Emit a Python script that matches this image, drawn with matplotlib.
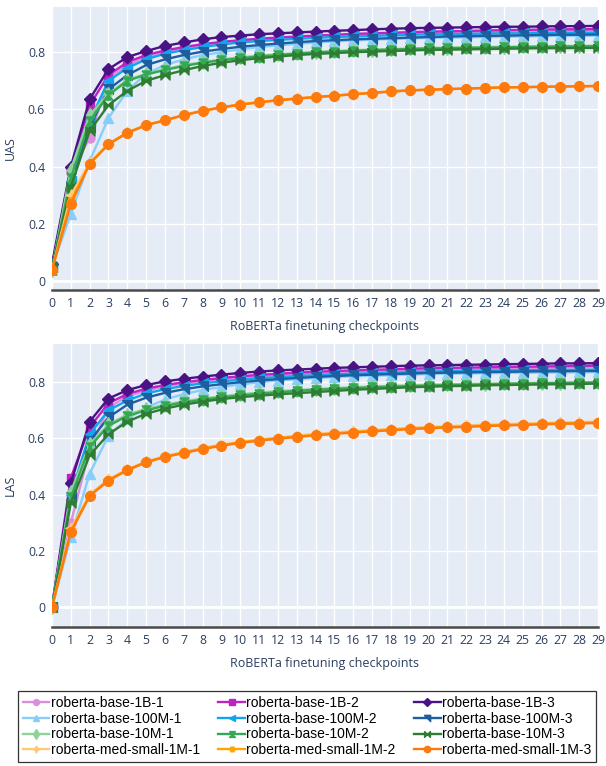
import matplotlib
matplotlib.use('Agg')
import matplotlib.pyplot as plt

# ── datos: checkpoints 0..29 ────────────────────────────────
checkpoints = list(range(30))

names = [
    'roberta-base-1B-1', 'roberta-base-1B-2', 'roberta-base-1B-3',
    'roberta-base-100M-1', 'roberta-base-100M-2', 'roberta-base-100M-3',
    'roberta-base-10M-1', 'roberta-base-10M-2', 'roberta-base-10M-3',
    'roberta-med-small-1M-1', 'roberta-med-small-1M-2', 'roberta-med-small-1M-3',
]

uas_1b_1 = [0.05, 0.38, 0.50, 0.71, 0.755, 0.782, 0.80, 0.812, 0.822, 0.83, 0.837, 0.842, 0.846, 0.85, 0.853,
            0.856, 0.859, 0.861, 0.863, 0.865, 0.867, 0.868, 0.869, 0.871, 0.872, 0.873, 0.874, 0.875, 0.875, 0.876]
uas_1b_2 = [0.05, 0.39, 0.615, 0.72, 0.765, 0.79, 0.806, 0.818, 0.828, 0.836, 0.842, 0.847, 0.851, 0.855, 0.858,
            0.861, 0.864, 0.866, 0.868, 0.87, 0.872, 0.873, 0.874, 0.876, 0.877, 0.878, 0.879, 0.88, 0.88, 0.881]
uas_1b_3 = [0.06, 0.40, 0.636, 0.741, 0.783, 0.804, 0.822, 0.834, 0.845, 0.853, 0.858, 0.863, 0.866, 0.869, 0.872,
            0.875, 0.877, 0.88, 0.882, 0.884, 0.885, 0.886, 0.887, 0.888, 0.889, 0.889, 0.89, 0.891, 0.891, 0.892]
uas_100m_1 = [0.05, 0.235, 0.42, 0.57, 0.665, 0.725, 0.755, 0.775, 0.79, 0.80, 0.81, 0.818, 0.824, 0.829, 0.834,
              0.838, 0.841, 0.844, 0.846, 0.848, 0.85, 0.851, 0.852, 0.853, 0.854, 0.855, 0.856, 0.857, 0.857, 0.858]
uas_100m_2 = [0.05, 0.35, 0.56, 0.70, 0.745, 0.775, 0.795, 0.807, 0.818, 0.827, 0.834, 0.839, 0.843, 0.847, 0.85,
              0.853, 0.855, 0.857, 0.859, 0.861, 0.862, 0.863, 0.864, 0.865, 0.866, 0.866, 0.867, 0.867, 0.868, 0.868]
uas_100m_3 = [0.05, 0.33, 0.54, 0.67, 0.72, 0.755, 0.775, 0.79, 0.802, 0.811, 0.819, 0.825, 0.83, 0.835, 0.839,
              0.842, 0.845, 0.847, 0.849, 0.851, 0.853, 0.855, 0.856, 0.857, 0.858, 0.859, 0.86, 0.861, 0.861, 0.862]
uas_10m_1 = [0.04, 0.39, 0.58, 0.655, 0.703, 0.725, 0.74, 0.755, 0.765, 0.775, 0.782, 0.788, 0.793, 0.797, 0.801,
             0.804, 0.807, 0.809, 0.811, 0.813, 0.815, 0.816, 0.817, 0.818, 0.819, 0.82, 0.821, 0.822, 0.822, 0.823]
uas_10m_2 = [0.04, 0.36, 0.56, 0.65, 0.70, 0.722, 0.738, 0.752, 0.763, 0.772, 0.779, 0.785, 0.79, 0.795, 0.799,
             0.802, 0.805, 0.807, 0.809, 0.811, 0.813, 0.814, 0.815, 0.816, 0.817, 0.818, 0.819, 0.82, 0.82, 0.821]
uas_10m_3 = [0.05, 0.33, 0.525, 0.615, 0.665, 0.70, 0.72, 0.737, 0.752, 0.763, 0.772, 0.779, 0.785, 0.79, 0.794,
             0.797, 0.80, 0.802, 0.804, 0.806, 0.808, 0.809, 0.81, 0.811, 0.812, 0.813, 0.814, 0.814, 0.815, 0.815]
uas_ms_1 = [0.04, 0.30, 0.415, 0.48, 0.52, 0.546, 0.563, 0.581, 0.596, 0.608, 0.618, 0.626, 0.633, 0.639, 0.644,
            0.649, 0.654, 0.659, 0.663, 0.667, 0.669, 0.671, 0.673, 0.675, 0.677, 0.678, 0.679, 0.68, 0.681, 0.682]
uas_ms_2 = [0.04, 0.28, 0.41, 0.479, 0.519, 0.545, 0.562, 0.58, 0.595, 0.607, 0.617, 0.625, 0.632, 0.638, 0.643,
            0.648, 0.653, 0.658, 0.662, 0.666, 0.669, 0.671, 0.673, 0.675, 0.677, 0.678, 0.679, 0.68, 0.681, 0.682]
uas_ms_3 = [0.04, 0.27, 0.41, 0.478, 0.518, 0.545, 0.562, 0.58, 0.595, 0.607, 0.617, 0.625, 0.632, 0.638, 0.643,
            0.648, 0.653, 0.658, 0.663, 0.667, 0.669, 0.671, 0.673, 0.675, 0.677, 0.678, 0.679, 0.68, 0.681, 0.682]

las_1b_1 = [0.0, 0.30, 0.56, 0.71, 0.75, 0.77, 0.785, 0.795, 0.803, 0.81, 0.816, 0.821, 0.825, 0.829, 0.832,
            0.835, 0.837, 0.839, 0.841, 0.843, 0.845, 0.846, 0.847, 0.848, 0.849, 0.85, 0.851, 0.852, 0.853, 0.854]
las_1b_2 = [0.0, 0.46, 0.64, 0.725, 0.758, 0.777, 0.79, 0.80, 0.808, 0.815, 0.821, 0.826, 0.83, 0.834, 0.837,
            0.84, 0.842, 0.844, 0.846, 0.848, 0.85, 0.851, 0.852, 0.853, 0.854, 0.855, 0.856, 0.857, 0.858, 0.859]
las_1b_3 = [0.0, 0.44, 0.66, 0.742, 0.772, 0.79, 0.803, 0.812, 0.82, 0.827, 0.833, 0.838, 0.842, 0.845, 0.848,
            0.851, 0.853, 0.855, 0.857, 0.859, 0.86, 0.861, 0.862, 0.863, 0.864, 0.865, 0.866, 0.867, 0.867, 0.868]
las_100m_1 = [0.0, 0.25, 0.475, 0.61, 0.67, 0.71, 0.738, 0.758, 0.772, 0.783, 0.792, 0.80, 0.806, 0.811, 0.815,
              0.818, 0.821, 0.823, 0.825, 0.827, 0.829, 0.83, 0.831, 0.832, 0.833, 0.834, 0.834, 0.835, 0.835, 0.836]
las_100m_2 = [0.0, 0.40, 0.615, 0.70, 0.735, 0.76, 0.775, 0.787, 0.796, 0.803, 0.809, 0.814, 0.818, 0.822, 0.825,
              0.828, 0.83, 0.832, 0.834, 0.836, 0.838, 0.839, 0.84, 0.841, 0.842, 0.843, 0.843, 0.844, 0.844, 0.845]
las_100m_3 = [0.0, 0.39, 0.59, 0.675, 0.72, 0.745, 0.762, 0.775, 0.785, 0.793, 0.80, 0.806, 0.811, 0.815, 0.819,
              0.822, 0.825, 0.827, 0.829, 0.831, 0.833, 0.834, 0.835, 0.836, 0.837, 0.838, 0.839, 0.839, 0.84, 0.84]
las_10m_1 = [0.0, 0.41, 0.58, 0.65, 0.685, 0.705, 0.72, 0.732, 0.742, 0.75, 0.757, 0.763, 0.768, 0.772, 0.776,
             0.779, 0.782, 0.785, 0.787, 0.789, 0.791, 0.793, 0.794, 0.795, 0.796, 0.797, 0.798, 0.799, 0.80, 0.80]
las_10m_2 = [0.0, 0.39, 0.57, 0.645, 0.68, 0.70, 0.716, 0.728, 0.738, 0.746, 0.753, 0.759, 0.764, 0.769, 0.773,
             0.776, 0.779, 0.782, 0.784, 0.786, 0.788, 0.79, 0.791, 0.792, 0.794, 0.795, 0.796, 0.797, 0.798, 0.799]
las_10m_3 = [0.0, 0.37, 0.54, 0.615, 0.66, 0.688, 0.706, 0.72, 0.731, 0.74, 0.747, 0.752, 0.757, 0.761, 0.765,
             0.769, 0.773, 0.776, 0.779, 0.782, 0.784, 0.786, 0.787, 0.789, 0.79, 0.791, 0.792, 0.793, 0.794, 0.795]
las_ms_1 = [0.0, 0.28, 0.40, 0.455, 0.49, 0.518, 0.537, 0.552, 0.566, 0.578, 0.588, 0.596, 0.603, 0.61, 0.616,
            0.621, 0.626, 0.63, 0.634, 0.638, 0.641, 0.644, 0.646, 0.649, 0.651, 0.653, 0.655, 0.657, 0.658, 0.66]
las_ms_2 = [0.0, 0.27, 0.397, 0.452, 0.488, 0.516, 0.535, 0.55, 0.564, 0.576, 0.586, 0.594, 0.601, 0.607, 0.613,
            0.618, 0.623, 0.627, 0.631, 0.635, 0.638, 0.641, 0.643, 0.646, 0.648, 0.65, 0.652, 0.654, 0.655, 0.657]
las_ms_3 = [0.0, 0.267, 0.395, 0.45, 0.487, 0.515, 0.534, 0.548, 0.562, 0.574, 0.584, 0.592, 0.599, 0.605, 0.611,
            0.616, 0.621, 0.625, 0.629, 0.633, 0.636, 0.639, 0.641, 0.644, 0.646, 0.648, 0.65, 0.652, 0.653, 0.655]

uas = [uas_1b_1, uas_1b_2, uas_1b_3, uas_100m_1, uas_100m_2, uas_100m_3,
       uas_10m_1, uas_10m_2, uas_10m_3, uas_ms_1, uas_ms_2, uas_ms_3]
las = [las_1b_1, las_1b_2, las_1b_3, las_100m_1, las_100m_2, las_100m_3,
       las_10m_1, las_10m_2, las_10m_3, las_ms_1, las_ms_2, las_ms_3]

# ── estilos ─────────────────────────────────────────────────
colors = ['#D98FDC', '#BE22C0', '#4B1285',
          '#87CEFA', '#13A4EF', '#1C5E9F',
          '#8ED49A', '#35A853', '#2F7D32',
          '#FFC97A', '#FFA500', '#FF7A0D']

hourglass = [(-1, 1), (1, 1), (-1, -1), (1, -1), (-1, 1)]
bowtie = [(-1, 1), (-1, -1), (1, 1), (1, -1), (-1, 1)]
star4 = [(0, 1), (0.3, 0.3), (1, 0), (0.3, -0.3), (0, -1), (-0.3, -0.3), (-1, 0), (-0.3, 0.3), (0, 1)]
tri_ne = [(-1, 1), (1, 1), (1, -1), (-1, 1)]
markers = ['o', 's', 'D', '^', '<', tri_ne, 'd', hourglass, bowtie, star4, 'H', 'o']
msizes = [6.5, 6, 6, 7, 7, 7, 7.5, 6.5, 6.5, 8, 6, 7]

BG = '#E5ECF6'
TXT = '#2a3f5f'
plt.rcParams['font.family'] = ['Open Sans', 'DejaVu Sans']

fig = plt.figure(figsize=(6.06, 7.66), dpi=100)
W, H = 606, 766


def add_panel(top_px, bottom_px, ylim, data, ylabel):
    ax = fig.add_axes([52 / W, 1 - bottom_px / H, 546 / W, (bottom_px - top_px) / H])
    ax.set_facecolor(BG)
    for i, serie in enumerate(data):
        ax.plot(checkpoints, serie, color=colors[i], marker=markers[i], ms=msizes[i],
                lw=1.7, label=names[i], zorder=3)
    ax.set_xlim(0, 29)
    ax.set_ylim(*ylim)
    ax.set_xticks(checkpoints)
    ax.set_yticks([0, 0.2, 0.4, 0.6, 0.8])
    ax.set_yticklabels(['0', '0.2', '0.4', '0.6', '0.8'])
    ax.grid(True, color='white', lw=1, zorder=0)
    ax.set_axisbelow(True)
    ax.axhline(0, color='white', lw=2, zorder=1)
    for s in ['top', 'right', 'left']:
        ax.spines[s].set_visible(False)
    ax.spines['bottom'].set_color('#4a4a4a')
    ax.spines['bottom'].set_linewidth(1.8)
    ax.tick_params(length=0, colors=TXT, labelsize=8.8, pad=5)
    ax.set_xlabel('RoBERTa finetuning checkpoints', color=TXT, fontsize=9, labelpad=7)
    ax.set_ylabel(ylabel, color=TXT, fontsize=9)
    ax.yaxis.set_label_coords(-35 / 546, 0.5)
    return ax


ax1 = add_panel(7, 290, (-0.031, 0.958), uas, 'UAS')
ax2 = add_panel(344, 627, (-0.071, 0.936), las, 'LAS')

# leyenda en filas: reordenar para ncol=3 (se llena por columnas)
handles, labels = ax2.get_legend_handles_labels()
order = [0, 3, 6, 9, 1, 4, 7, 10, 2, 5, 8, 11]
leg = fig.legend([handles[k] for k in order], [labels[k] for k in order],
                 loc='upper left', bbox_to_anchor=(11 / W, 8 / H, 592 / W, 74 / H),
                 mode='expand', ncol=3, frameon=True, fancybox=False,
                 edgecolor='black', handlelength=1.9, handletextpad=0.1,
                 labelspacing=0.13, borderpad=0.35, markerscale=0.65,
                 prop={'family': ['Liberation Sans', 'DejaVu Sans'], 'size': 10})
leg.get_frame().set_linewidth(0.9)

fig.savefig('out.png', dpi=100)
